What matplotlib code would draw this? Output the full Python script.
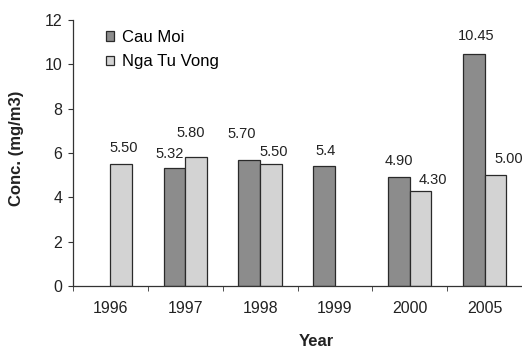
import matplotlib
matplotlib.use("Agg")
import matplotlib.pyplot as plt
import numpy as np

years = ["1996", "1997", "1998", "1999", "2000", "2005"]
cau_moi = [None, 5.32, 5.70, 5.40, 4.90, 10.45]
nga_tu_vong = [5.50, 5.80, 5.50, None, 4.30, 5.00]
cau_moi_labels = [None, "5.32", "5.70", "5.4", "4.90", "10.45"]
nga_tu_vong_labels = ["5.50", "5.80", "5.50", None, "4.30", "5.00"]

# hand-placed value label nudges (dx, dy in pixels from the bar top centre)
cau_moi_nudge = [None, (-5, 14), (-8, 26), (2, 15), (0, 16), (2, 18)]
nga_tu_vong_nudge = [(2, 16), (-5, 24), (3, 12), None, (12, 11), (13, 16)]

plt.rcParams["font.family"] = ["Liberation Sans", "DejaVu Sans"]

W, H = 522, 349
fig = plt.figure(figsize=(W / 100, H / 100), dpi=100)
ax = fig.add_axes([73 / W, 63 / H, 449 / W, 266 / H])

x = np.arange(len(years))
w = 0.29
dark = "#8c8c8c"
light = "#d3d3d3"
ink = "#222222"


def draw(vals, labels, nudges, offset, color, name):
    xs = [xi + offset for xi, v in zip(x, vals) if v is not None]
    vs = [v for v in vals if v is not None]
    ax.bar(xs, vs, width=w, align="edge", color=color, edgecolor="#2a2a2a",
           linewidth=0.9, label=name)
    for xi, v, lab, nd in zip(x, vals, labels, nudges):
        if v is None:
            continue
        ax.annotate(lab, (xi + offset + w / 2, v), xytext=nd,
                    textcoords="offset pixels", ha="center", va="center",
                    fontsize=10.5, color=ink, annotation_clip=False)


draw(cau_moi, cau_moi_labels, cau_moi_nudge, -w, dark, "Cau Moi")
draw(nga_tu_vong, nga_tu_vong_labels, nga_tu_vong_nudge, 0.0, light,
     "Nga Tu Vong")

ax.set_xlim(-0.5, -0.5 + 449 / 75.8)
ax.set_ylim(0, 12)
ax.set_yticks(range(0, 13, 2))
ax.tick_params(axis="y", direction="out", length=3.6, labelsize=11.5, pad=4,
               color="#333333", labelcolor=ink)
ax.set_xticks(x)
ax.set_xticklabels(years)
ax.set_xticks(np.arange(-0.5, 6, 1), minor=True)
ax.tick_params(axis="x", which="major", length=0, pad=11, labelsize=11.5,
               labelcolor=ink)
ax.tick_params(axis="x", which="minor", direction="out", length=3.6,
               color="#333333")

for s in ("top", "right"):
    ax.spines[s].set_visible(False)
for s in ("left", "bottom"):
    ax.spines[s].set_color("#333333")
    ax.spines[s].set_linewidth(0.9)

fig.text(316 / W, 1 - 342 / H, "Year", fontsize=12, fontweight="bold",
         ha="center", va="center", color=ink)
fig.text(17 / W, 1 - 148 / H, "Conc. (mg/m3)", fontsize=12,
         fontweight="bold", rotation=90, ha="center", va="center", color=ink)

ax.legend(loc="upper left", bbox_to_anchor=(106 / W, 1 - 30 / H),
          bbox_transform=fig.transFigure, frameon=False, fontsize=12,
          handlelength=0.48, handleheight=0.48, handletextpad=0.45,
          labelspacing=0.55, borderpad=0, borderaxespad=0)

fig.savefig("out.png", dpi=100)
